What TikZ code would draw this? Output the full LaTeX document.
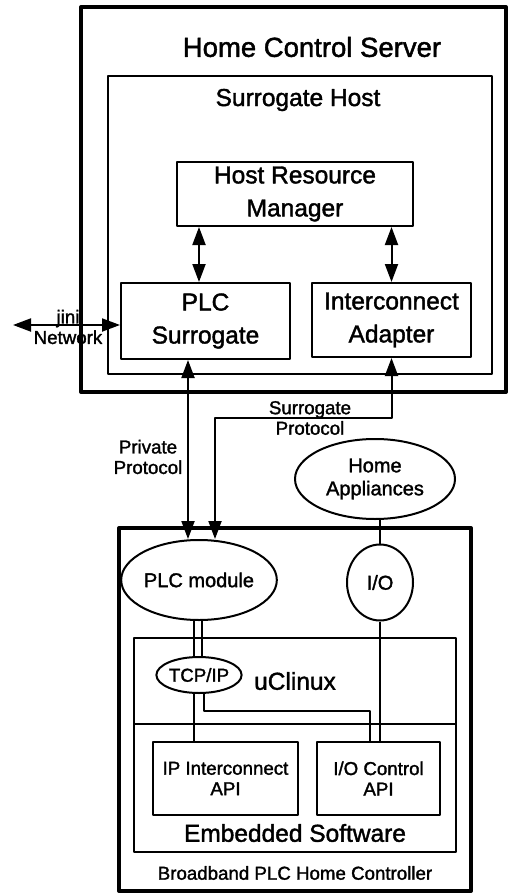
\documentclass[tikz,border=0pt]{standalone}
\usepackage{fontspec}
\setmainfont{Liberation Sans}[UprightFeatures={FakeBold=1.6}]
\usetikzlibrary{arrows.meta,shapes.geometric}
\newcommand\sizeL{\fontsize{27.5}{30}\selectfont}
\newcommand\sizeM{\fontsize{24.5}{33}\selectfont}
\newcommand\sizeS{\fontsize{20}{23}\selectfont}
\newcommand\sizeXS{\fontsize{18.7}{20.5}\selectfont}
\begin{document}
\begin{tikzpicture}[x=1pt,y=-1pt,line join=round,>={Triangle[length=18pt,width=13pt]},
  box/.style={draw,line width=2pt,inner sep=0pt,align=center},
  frame/.style={draw,line width=4pt,inner sep=0pt},
  oval/.style={draw,ellipse,line width=2pt,inner sep=0pt,align=center},
  link/.style={line width=2pt}]
\useasboundingbox (0,0) rectangle (508,893);
% server side
\node[frame,minimum width=425pt,minimum height=385pt] (server) at (293.5,199.5) {};
\node[font=\sizeL] (serverlabel) at (312,47) {Home Control Server};
\node[box,minimum width=384pt,minimum height=298pt] (host) at (300,225) {};
\node[font=\sizeM] (hostlabel) at (298,100) {Surrogate Host};
\node[box,font=\sizeM,minimum width=236pt,minimum height=64pt] (hrm) at (295,194) {Host Resource\\Manager};
\node[box,font=\sizeM,minimum width=169pt,minimum height=76pt] (plcs) at (205.5,321) {PLC\\Surrogate};
\node[box,font=\sizeM,minimum width=159pt,minimum height=74pt] (adapter) at (391.5,320) {Interconnect\\Adapter};
\draw[link,<->] ([xshift=-6.5pt]plcs.north) -- ([xshift=-6.5pt]plcs.north |- hrm.south);
\draw[link,<->] (adapter.north) -- (adapter.north |- hrm.south);
\coordinate (jini) at (13,325);
\draw[link,<->] (jini) -- (jini -| plcs.west);
\node[align=center,font=\sizeXS] (jinilabel) at (68,327) {jini\\Network};
% controller side
\node[frame,minimum width=352pt,minimum height=363pt] (ctrl) at (295,709.5) {};
\node[font=\sizeXS] (ctrllabel) at (295,873) {Broadband PLC Home Controller};
\node[oval,font=\sizeS,minimum width=160pt,minimum height=80pt] (appl) at (375,479) {Home\\Appliances};
\node[oval,font=\sizeS,minimum width=134pt,minimum height=80pt] (plcm) at (199,580) {PLC module};
\node[oval,font=\sizeS,minimum width=66pt,minimum height=76pt] (io) at (380,582.5) {I/O};
\node[box,font=\sizeM,minimum width=322pt,minimum height=86pt] (os) at (295,681) {uClinux};
\node[box,minimum width=322pt,minimum height=128pt] (sw) at (295,788) {};
\node[font=\sizeM] (swlabel) at (295,833) {Embedded Software};
\node[oval,fill=white,font=\sizeXS,minimum width=81pt,minimum height=36pt] (tcp) at (199,675) {TCP/IP};
\node[box,font=\sizeXS,minimum width=145pt,minimum height=73pt] (ipapi) at (225.5,778.5) {IP Interconnect\\API};
\node[box,font=\sizeXS,minimum width=123pt,minimum height=73pt] (ioapi) at (378.5,778.5) {I/O Control\\API};
% protocols
\coordinate (pp) at (188,450);
\draw[link,<->] (plcs.south -| pp) -- (plcm.north -| pp);
\node[align=center,font=\sizeXS] (private) at (148,457) {Private\\Protocol};
\coordinate (sp) at (215,418);
\draw[link,<->] (adapter.south) |- (sp) -- (plcm.north -| sp);
\node[align=center,font=\sizeXS] (surrogate) at (310,418) {Surrogate\\Protocol};
% inner wiring
\draw[link] (appl.south -| io.north) -- (io.north);
\draw[link] ([xshift=-5pt]plcm.south) -- ([xshift=-5pt]tcp.north);
\draw[link] ([xshift=3pt]plcm.south) -- ([xshift=3pt]tcp.north);
\draw[link] ([xshift=-5pt]tcp.south) -- ([xshift=-5pt]tcp.south |- ipapi.north);
\coordinate (bend) at (370,711);
\draw[link] ([xshift=5pt]tcp.south) |- (bend) -- (bend |- ioapi.north);
\draw[link] (io.south) -- (io.south |- ioapi.north);
\end{tikzpicture}
\end{document}
